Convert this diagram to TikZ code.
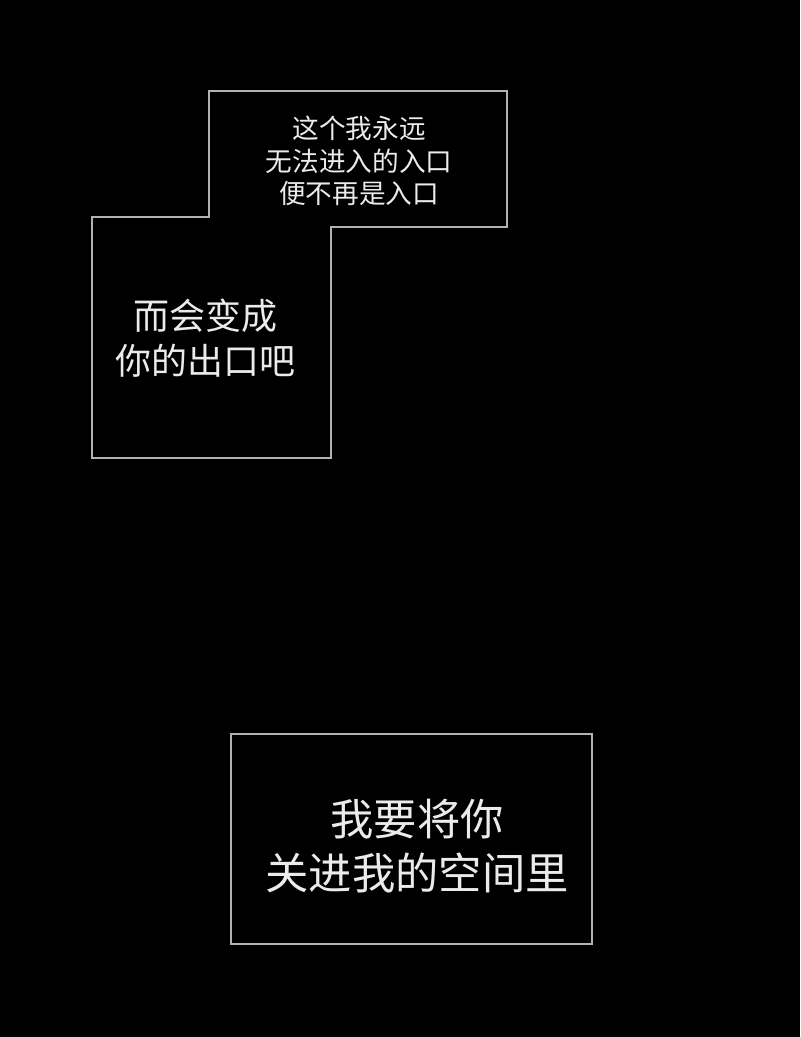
\documentclass[tikz,border=0pt]{standalone}
\usepackage{fontspec}
\setmainfont{Noto Sans CJK SC}
\usetikzlibrary{positioning}

\begin{document}
\begin{tikzpicture}[x=0.75pt,y=-0.75pt,
    frame/.style={draw=black!30,line width=1.1pt,fill=black},
    caption/.style={text=white!92!black,align=center,inner sep=0pt},
    small/.style={caption,font=\fontsize{20}{24.4}\selectfont},
    medium/.style={caption,font=\fontsize{27}{34}\selectfont},
    large/.style={caption,font=\fontsize{32.5}{40}\selectfont}]
  \fill[black] (0,0) rectangle (800,1037);
  \useasboundingbox (0,0) rectangle (800,1037);
  % outline of the two joined panels
  \draw[frame] (209,91) -- (507,91) -- (507,227) -- (331,227) -- (331,458)
    -- (92,458) -- (92,217) -- (209,217) -- cycle;
  \draw[frame] (231,734) rectangle (592,944);
  \node[small] (A) at (359,161) {这个我永远\\无法进入的入口\\便不再是入口};
  \node[medium] (B) at (205,338) {而会变成\\你的出口吧};
  \node[large] (C) at (417,846) {我要将你\\关进我的空间里};
\end{tikzpicture}
\end{document}
